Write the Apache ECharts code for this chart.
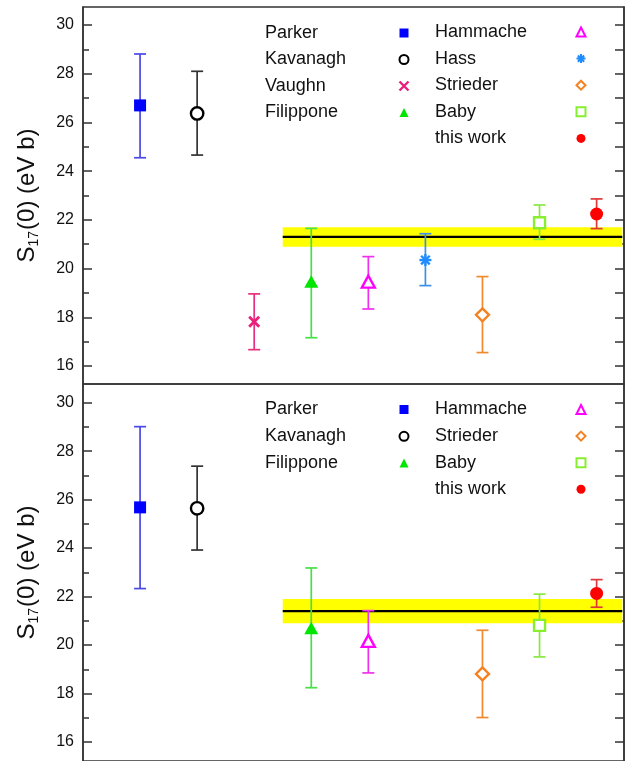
<!DOCTYPE html>
<html>
<head>
<meta charset="utf-8">
<script src="https://cdn.jsdelivr.net/npm/echarts@6/dist/echarts.min.js"></script>
<style>html,body{margin:0;padding:0;background:#fff}#c{width:627px;height:761px}</style>
</head>
<body>
<div id="c"></div>
<script>
// ---- data (top panel) ----
const topNames = ['Parker','Kavanagh','Vaughn','Filippone','Hammache','Hass','Strieder','Baby','this work'];
const topPos   = [1, 2, 3, 4, 5, 6, 7, 8, 9];
const topVal   = [26.70, 26.37, 17.82, 19.40, 19.40, 20.35, 18.10, 21.88, 22.24];
const topLow   = [24.55, 24.66, 16.67, 17.16, 18.34, 19.30, 16.55, 21.20, 21.64];
const topHigh  = [28.81, 28.10, 18.96, 21.65, 20.49, 21.43, 19.67, 22.61, 22.86];
const topBandX = [3.5, 9.45];
const topBand  = [20.9, 21.7];
const topMean  = 21.3;

// ---- data (bottom panel) ----
const botNames = ['Parker','Kavanagh','Filippone','Hammache','Strieder','Baby','this work'];
const botPos   = [1, 2, 4, 5, 7, 8, 9];
const botVal   = [25.68, 25.64, 20.63, 20.11, 18.81, 20.81, 22.13];
const botLow   = [22.33, 23.92, 18.24, 18.85, 17.01, 19.51, 21.56];
const botHigh  = [29.01, 27.38, 23.18, 21.42, 20.61, 22.10, 22.70];
const botBandX = [3.5, 9.45];
const botBand  = [20.9, 21.9];
const botMean  = 21.4;

// ---- ticks ----
const yMajorTicks = [16, 18, 20, 22, 24, 26, 28, 30];
const yMinorTicks = [16, 17, 18, 19, 20, 21, 22, 23, 24, 25, 26, 27, 28, 29, 30];

// ---- legend columns ----
const topLegendLeft  = ['Parker','Kavanagh','Vaughn','Filippone'];
const topLegendRight = ['Hammache','Hass','Strieder','Baby','this work'];
const botLegendLeft  = ['Parker','Kavanagh','Filippone'];
const botLegendRight = ['Hammache','Strieder','Baby','this work'];

// ---- styles ----
const FONT = '"Liberation Sans", Arial, sans-serif';
const STY = {
  'Parker':    {m:'sq',   c:'#0000ff', b:'#4848e8'},
  'Kavanagh':  {m:'oc',   c:'#000000', b:'#333333'},
  'Vaughn':    {m:'x',    c:'#e8207c', b:'#e8307e'},
  'Filippone': {m:'tri',  c:'#00e600', b:'#48e048'},
  'Hammache':  {m:'otri', c:'#ff00ff', b:'#f030f0'},
  'Hass':      {m:'ast',  c:'#1e8cff', b:'#3c90e6'},
  'Strieder':  {m:'dia',  c:'#f58220', b:'#f08a30'},
  'Baby':      {m:'osq',  c:'#88ee30', b:'#88e840'},
  'this work': {m:'fc',   c:'#ff0000', b:'#e03838'}
};

function ln(x1,y1,x2,y2,color,w){return {type:'line',shape:{x1,y1,x2,y2},style:{stroke:color,lineWidth:w}};}

function marker(m, cx, cy, color){
  switch(m){
    case 'sq': return {type:'rect',shape:{x:cx-6,y:cy-6,width:12,height:12},style:{fill:color}};
    case 'oc': return {type:'circle',shape:{cx,cy,r:6.2},style:{fill:'#fff',stroke:color,lineWidth:2.4}};
    case 'x': return {type:'group',children:[ln(cx-5,cy-5,cx+5,cy+5,color,2.8),ln(cx-5,cy+5,cx+5,cy-5,color,2.8)]};
    case 'tri': return {type:'polygon',shape:{points:[[cx,cy-8],[cx-7,cy+4.5],[cx+7,cy+4.5]]},style:{fill:color}};
    case 'otri': return {type:'polygon',shape:{points:[[cx,cy-7.5],[cx-6.5,cy+4.5],[cx+6.5,cy+4.5]]},style:{fill:'#fff',stroke:color,lineWidth:2.4}};
    case 'ast': return {type:'group',children:[ln(cx,cy-6,cx,cy+6,color,2.4),ln(cx-6,cy,cx+6,cy,color,2.4),ln(cx-4.3,cy-4.3,cx+4.3,cy+4.3,color,2.4),ln(cx-4.3,cy+4.3,cx+4.3,cy-4.3,color,2.4)]};
    case 'dia': return {type:'polygon',shape:{points:[[cx,cy-6.5],[cx+6.5,cy],[cx,cy+6.5],[cx-6.5,cy]]},style:{fill:'#fff',stroke:color,lineWidth:2.4}};
    case 'osq': return {type:'rect',shape:{x:cx-5.5,y:cy-5.5,width:11,height:11},style:{fill:'#fff',stroke:color,lineWidth:2.4}};
    case 'fc': return {type:'circle',shape:{cx,cy,r:6.5},style:{fill:color}};
  }
}

function dataSeries(panel, names, pos, val, low, high){
  return names.map((n,i)=>({
    type:'custom', name:n, xAxisIndex:panel, yAxisIndex:panel*3, z:5, silent:true,
    data:[[pos[i], val[i], low[i], high[i]]],
    renderItem:function(params, api){
      const s = STY[n];
      const p  = api.coord([api.value(0), api.value(1)]);
      const pl = api.coord([api.value(0), api.value(2)]);
      const ph = api.coord([api.value(0), api.value(3)]);
      const x = p[0];
      return {type:'group', children:[
        ln(x, ph[1], x, pl[1], s.b, 1.7),
        ln(x-6, ph[1], x+6, ph[1], s.b, 1.7),
        ln(x-6, pl[1], x+6, pl[1], s.b, 1.7),
        marker(s.m, p[0], p[1], s.c)
      ]};
    }
  }));
}

function bandSeries(panel, bx, band, mean){
  return [
    {type:'custom', xAxisIndex:panel, yAxisIndex:panel*3, z:1, silent:true,
     data:[[bx[0], bx[1], band[0], band[1]]],
     renderItem:function(params, api){
       const a = api.coord([api.value(0), api.value(3)]);
       const b = api.coord([api.value(1), api.value(2)]);
       return {type:'rect', shape:{x:a[0], y:a[1], width:b[0]-a[0], height:b[1]-a[1]}, style:{fill:'#ffff00'}};
     }},
    {type:'line', xAxisIndex:panel, yAxisIndex:panel*3, z:2, silent:true, symbol:'none',
     data:[[bx[0], mean],[bx[1], mean]], lineStyle:{color:'#000', width:2.2}}
  ];
}

const LEGEND_ICON = {
  'sq':  {icon:'rect', st:(c)=>({color:c, borderWidth:0})},
  'oc':  {icon:'circle', st:(c)=>({color:'#fff', borderColor:c, borderWidth:2})},
  'x':   {icon:'path://M0,0L10,10M10,0L0,10', st:(c)=>({color:'rgba(0,0,0,0)', borderColor:c, borderWidth:2.4})},
  'tri': {icon:'triangle', st:(c)=>({color:c, borderWidth:0})},
  'otri':{icon:'triangle', st:(c)=>({color:'#fff', borderColor:c, borderWidth:2})},
  'ast': {icon:'path://M5,0L5,10M0,5L10,5M1.5,1.5L8.5,8.5M8.5,1.5L1.5,8.5', st:(c)=>({color:'rgba(0,0,0,0)', borderColor:c, borderWidth:2})},
  'dia': {icon:'diamond', st:(c)=>({color:'#fff', borderColor:c, borderWidth:2})},
  'osq': {icon:'rect', st:(c)=>({color:'#fff', borderColor:c, borderWidth:2})},
  'fc':  {icon:'circle', st:(c)=>({color:c, borderWidth:0})}
};

function legend(names, left, top, textW, gap){
  return {
    orient:'vertical', left:left, top:top, padding:0, itemGap:gap,
    itemWidth:9, itemHeight:9, align:'right', selectedMode:false,
    data:names.map(n=>{const s=STY[n]; const L=LEGEND_ICON[s.m]; return {name:n, icon:L.icon, itemStyle:L.st(s.c)};}),
    formatter:(n)=>'{t|'+n+'}',
    textStyle:{fontFamily:FONT, fontSize:18, color:'#111',
      rich:{t:{width:textW, align:'left', fontFamily:FONT, fontSize:18, lineHeight:20, color:'#111'}}}
  };
}

function yAxes(gridIdx, min, max){
  const common = {type:'value', gridIndex:gridIdx, min:min, max:max, splitLine:{show:false}};
  return [
    Object.assign({}, common, {
      position:'left',
      axisLine:{show:true, onZero:false, lineStyle:{color:'#333', width:1.5}},
      axisTick:{show:true, inside:true, length:9, customValues:yMajorTicks, lineStyle:{color:'#333', width:1.5}},
      axisLabel:{show:true, customValues:yMajorTicks, margin:9, fontFamily:FONT, fontSize:16, color:'#111'},
      name:'{a|S}{s|17}{a|(0) (eV b)}', nameLocation:'middle', nameGap:42, nameRotate:90,
      nameTextStyle:{fontFamily:FONT, color:'#111', fontSize:24,
        rich:{a:{fontFamily:FONT, fontSize:24, color:'#111', lineHeight:28},
              s:{fontFamily:FONT, fontSize:14, color:'#111', lineHeight:28, verticalAlign:'bottom', padding:[0,1,0,0]}}}
    }),
    Object.assign({}, common, {
      position:'left',
      axisLine:{show:false, onZero:false},
      axisTick:{show:true, inside:true, length:6, customValues:yMinorTicks, lineStyle:{color:'#333', width:1.5}},
      axisLabel:{show:false}
    }),
    Object.assign({}, common, {
      position:'right',
      axisLine:{show:true, onZero:false, lineStyle:{color:'#333', width:1.5}},
      axisTick:{show:true, inside:true, length:9, customValues:yMinorTicks, lineStyle:{color:'#333', width:1.5}},
      axisLabel:{show:false}
    })
  ];
}

const chart = echarts.init(document.getElementById('c'), null, {renderer:'canvas'});
chart.setOption({
  animation:false,
  backgroundColor:'#fff',
  grid:[
    {left:83, right:3, top:7, height:377, show:true, borderColor:'#333', borderWidth:1.5},
    {left:83, right:3, top:384, height:380, show:true, borderColor:'#333', borderWidth:1.5}
  ],
  xAxis:[
    {type:'value', gridIndex:0, min:0, max:9.48, show:false},
    {type:'value', gridIndex:1, min:0, max:9.48, show:false}
  ],
  yAxis:[].concat(yAxes(0, 15.26, 30.74), yAxes(1, 15.216, 30.77)),
  legend:[
    legend(topLegendLeft, 265, 24, 129.5, 8.5),
    legend(topLegendRight, 435, 23, 136.5, 8.6),
    legend(botLegendLeft, 265, 400.5, 129.5, 8.8),
    legend(botLegendRight, 435, 400.5, 136.5, 8.6)
  ],
  series:[].concat(
    bandSeries(0, topBandX, topBand, topMean),
    bandSeries(1, botBandX, botBand, botMean),
    dataSeries(0, topNames, topPos, topVal, topLow, topHigh),
    dataSeries(1, botNames, botPos, botVal, botLow, botHigh)
  )
});
</script>
</body>
</html>
